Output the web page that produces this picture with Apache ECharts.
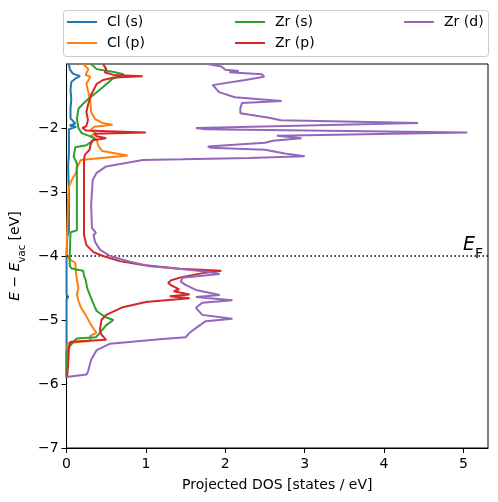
<!DOCTYPE html>
<html><head><meta charset="utf-8">
<script src="https://cdn.jsdelivr.net/npm/echarts@6/dist/echarts.min.js"></script>
<style>html,body{margin:0;padding:0;background:#fff}#c{width:498px;height:502px}</style>
</head><body><div id="c"></div>
<script>
// ---- data (energy E in eV vs projected DOS) ----
const clS_E   = [-1.0,-1.08,-1.15,-1.19,-1.22,-1.28,-1.40,-1.55,-1.70,-1.85,-1.88,-1.93,-1.96,-1.98,-2.02,-2.2,-2.4,-2.6,-3.0,-3.6,-3.7,-4.0,-4.6,-4.64,-4.68,-5.4,-5.9];
const clS_dos = [0.03,0.04,0.08,0.17,0.12,0.06,0.05,0.06,0.05,0.05,0.05,0.11,0.04,0.12,0.03,0.03,0.03,0.02,0.03,0.03,0.01,0.0,0.0,0.02,0.0,0.0,0.0];

const clP_E   = [-1.0,-1.08,-1.17,-1.20,-1.31,-1.44,-1.59,-1.75,-1.86,-1.92,-1.95,-1.98,-2.03,-2.08,-2.12,-2.18,-2.28,-2.36,-2.43,-2.50,-2.62,-2.70,-2.80,-2.92,-3.1,-3.5,-3.98,-4.05,-4.11,-4.33,-4.5,-4.6,-4.7,-4.8,-4.92,-5.08,-5.2,-5.25,-5.33,-5.36,-5.5,-5.9];
const clP_dos = [0.21,0.275,0.24,0.30,0.25,0.275,0.30,0.31,0.36,0.45,0.58,0.35,0.30,0.37,0.31,0.38,0.40,0.45,0.77,0.18,0.13,0.12,0.07,0.03,0.02,0.01,0.0,0.04,0.11,0.125,0.15,0.13,0.15,0.18,0.24,0.31,0.375,0.30,0.30,0.02,0.0,0.0];

const zrS_E   = [-1.0,-1.08,-1.12,-1.16,-1.20,-1.23,-1.36,-1.44,-1.55,-1.62,-1.70,-1.86,-2.0,-2.08,-2.13,-2.17,-2.27,-2.30,-2.33,-2.45,-2.55,-3.0,-3.6,-3.63,-3.66,-4.0,-4.15,-4.19,-4.21,-4.23,-4.31,-4.37,-4.5,-4.6,-4.69,-4.78,-4.86,-4.95,-5.0,-5.08,-5.2,-5.27,-5.29,-5.34,-5.42,-5.5,-5.9];
const zrS_dos = [0.31,0.38,0.58,0.72,0.65,0.58,0.46,0.38,0.27,0.21,0.15,0.13,0.15,0.19,0.30,0.36,0.25,0.11,0.09,0.09,0.13,0.13,0.13,0.05,0.04,0.04,0.04,0.06,0.12,0.21,0.22,0.24,0.26,0.29,0.32,0.35,0.38,0.48,0.59,0.50,0.42,0.37,0.13,0.09,0.03,0.0,0.0];

const zrP_E   = [-1.0,-1.08,-1.13,-1.17,-1.19,-1.21,-1.25,-1.31,-1.36,-1.48,-1.64,-1.75,-1.87,-1.97,-2.0,-2.04,-2.07,-2.09,-2.13,-2.16,-2.19,-2.27,-2.34,-2.42,-2.5,-3.67,-3.83,-3.94,-4.0,-4.08,-4.14,-4.2,-4.23,-4.26,-4.33,-4.38,-4.42,-4.46,-4.52,-4.55,-4.60,-4.63,-4.66,-4.69,-4.72,-4.8,-4.92,-5.0,-5.16,-5.23,-5.31,-5.33,-5.34,-5.45,-5.7,-5.85,-5.9];
const zrP_dos = [0.46,0.50,0.48,0.59,0.96,0.60,0.46,0.38,0.36,0.31,0.27,0.25,0.27,0.25,0.20,0.25,1.0,0.35,0.38,0.50,0.33,0.30,0.29,0.23,0.22,0.22,0.25,0.34,0.46,0.67,0.96,1.42,1.95,1.75,1.45,1.32,1.28,1.32,1.42,1.35,1.55,1.30,1.55,1.25,1.0,0.71,0.50,0.44,0.42,0.44,0.50,0.50,0.05,0.03,0.02,0.01,0.0];

const zrD_E   = [-1.0,-1.04,-1.09,-1.11,-1.13,-1.16,-1.20,-1.25,-1.33,-1.38,-1.44,-1.52,-1.58,-1.61,-1.69,-1.77,-1.84,-1.88,-1.92,-2.0,-2.02,-2.07,-2.12,-2.14,-2.16,-2.2,-2.23,-2.29,-2.31,-2.34,-2.4,-2.44,-2.47,-2.49,-2.5,-2.6,-2.7,-2.81,-3.2,-3.56,-3.64,-3.67,-3.78,-3.9,-4.0,-4.09,-4.16,-4.2,-4.25,-4.28,-4.34,-4.4,-4.45,-4.53,-4.61,-4.64,-4.69,-4.73,-4.81,-4.92,-4.98,-5.02,-5.1,-5.2,-5.27,-5.3,-5.33,-5.37,-5.47,-5.62,-5.81,-5.85,-5.89];
const zrD_dos = [1.78,1.95,2.0,2.17,2.05,2.46,2.49,2.25,1.84,1.88,1.92,2.12,2.71,2.21,2.19,2.19,2.55,2.7,4.43,1.63,1.75,5.05,2.65,2.63,2.96,2.6,2.5,1.78,1.82,2.5,2.75,3.0,2.3,1.46,0.96,0.5,0.38,0.33,0.31,0.32,0.37,0.34,0.36,0.42,0.55,0.8,1.05,1.42,1.8,1.93,1.46,1.44,1.5,1.63,1.93,1.63,2.09,1.71,1.63,1.71,2.09,1.75,1.66,1.55,1.5,1.17,1.15,0.55,0.38,0.31,0.27,0.25,0.0];

const names  = ['Cl (s)','Cl (p)','Zr (s)','Zr (p)','Zr (d)'];
const colors = ['#1f77b4','#ff7f0e','#2ca02c','#d62728','#9467bd'];
const Es   = [clS_E, clP_E, zrS_E, zrP_E, zrD_E];
const DOSs = [clS_dos, clP_dos, zrS_dos, zrP_dos, zrD_dos];
const fermi = -4;

const font = 'DejaVu Sans';
const minus = v => (v < 0 ? '\u2212' + Math.abs(v) : String(v));

const series = names.map((n, i) => ({
  name: n, type: 'line', showSymbol: false, symbol: 'none', clip: true,
  lineStyle: { color: colors[i], width: 2 }, itemStyle: { color: colors[i] },
  data: Es[i].map((e, k) => [DOSs[i][k], e]),
  z: 2 + i
}));
series[0].markLine = {
  silent: true, symbol: 'none', animation: false,
  lineStyle: { color: '#000', type: [1.5, 2.5], width: 1.6 },
  label: { show: true, position: 'insideEndTop', distance: [0, 1], color: '#000',
    formatter: '{e|E}{f|F}',
    rich: { e: { fontFamily: font, fontStyle: 'italic', fontSize: 19, color: '#000' },
            f: { fontFamily: font, fontSize: 14, color: '#000', verticalAlign: 'bottom', padding: [0,5,-6,0] } } },
  data: [{ yAxis: fermi }]
};

// legend: 3 columns, column-major like matplotlib
const legPos = [[67,15],[67,36],[235,15],[235,36],[404,15]];
const legends = names.map((n, i) => ({
  data: [n], left: legPos[i][0], top: legPos[i][1], padding: 0, icon: 'rect', itemWidth: 30, itemHeight: 2,
  selectedMode: false, textStyle: { fontFamily: font, fontSize: 14, color: '#000', padding: [0,0,0,5] }
}));

const chart = echarts.init(document.getElementById('c'), null, { renderer: 'canvas' });
chart.setOption({
  animation: false,
  backgroundColor: '#fff',
  grid: { left: 63, top: 64, width: 425, height: 384, show: true, borderColor: '#000', borderWidth: 1, backgroundColor: 'transparent' },
  legend: legends,
  graphic: [{ type: 'rect', left: 63, top: 10, shape: { width: 425, height: 46, r: 3 },
    style: { fill: 'rgba(255,255,255,0.8)', stroke: '#cccccc', lineWidth: 1 }, z: -1 }],
  xAxis: { type: 'value', min: 0, max: 5.31, interval: 1,
    name: 'Projected DOS [states / eV]', nameLocation: 'middle', nameGap: 30,
    nameTextStyle: { fontFamily: font, fontSize: 14, color: '#000' },
    axisLine: { show: true, lineStyle: { color: '#000', width: 1 } },
    axisTick: { show: true, length: 5, lineStyle: { color: '#000' } },
    axisLabel: { fontFamily: font, fontSize: 14, color: '#000', margin: 9, formatter: minus, showMaxLabel: false },
    splitLine: { show: false } },
  yAxis: { type: 'value', min: -7, max: -1, interval: 1,
    name: '{i|E} \u2212 {i|E}{s|vac} [eV]', nameLocation: 'middle', nameGap: 37, nameRotate: 90,
    nameTextStyle: { fontFamily: font, fontSize: 14, color: '#000',
      rich: { i: { fontFamily: font, fontStyle: 'italic', fontSize: 14, color: '#000' },
              s: { fontFamily: font, fontSize: 10, color: '#000', verticalAlign: 'bottom', padding: [0,0,-5,0] } } },
    axisLine: { show: true, lineStyle: { color: '#000', width: 1 } },
    axisTick: { show: true, length: 5, lineStyle: { color: '#000' } },
    axisLabel: { fontFamily: font, fontSize: 14, color: '#000', margin: 8, formatter: minus, showMaxLabel: false },
    splitLine: { show: false } },
  series: series
});
</script></body></html>
